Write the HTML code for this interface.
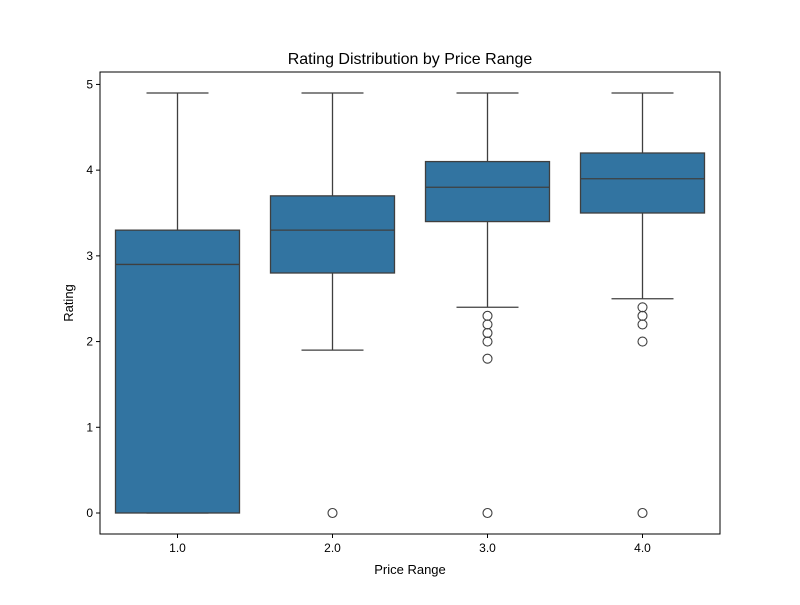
<!DOCTYPE html>
<html><head><meta charset="utf-8"><style>
body{margin:0;background:#fff}
text{font-family:"Liberation Sans","DejaVu Sans",sans-serif;fill:#000}
</style></head><body>
<svg id="chart" width="800" height="600" xmlns="http://www.w3.org/2000/svg">
<rect width="800" height="600" fill="#fff"/>
<text x="410" y="64" font-size="16" text-anchor="middle">Rating Distribution by Price Range</text>
<text x="410" y="574" font-size="13" text-anchor="middle">Price Range</text>
<text x="73" y="303" font-size="13" text-anchor="middle" transform="rotate(-90 73 303)">Rating</text>
<g id="plot"></g>
<rect x="100" y="72" width="620" height="462" fill="none" stroke="#000" stroke-width="1"/>
</svg>
<script>
const categories = ["1.0","2.0","3.0","4.0"];
const q1 = [0, 2.8, 3.4, 3.5];
const medians = [2.9, 3.3, 3.8, 3.9];
const q3 = [3.3, 3.7, 4.1, 4.2];
const whiskLow = [0, 1.9, 2.4, 2.5];
const whiskHigh = [4.9, 4.9, 4.9, 4.9];
const outliers = [[], [0], [2.3, 2.2, 2.1, 2.0, 1.8, 0], [2.4, 2.3, 2.2, 2.0, 0]];
const yTicks = [0, 1, 2, 3, 4, 5];

const NS = "http://www.w3.org/2000/svg";
const L = 100, R = 720, T = 72, B = 534, yMin = -0.245, yMax = 5.145;
const y = v => B - (v - yMin) / (yMax - yMin) * (B - T);
const step = (R - L) / categories.length;
const x = i => L + step * (i + 0.5);
const g = document.getElementById("plot");
function mk(tag, attrs) { const e = document.createElementNS(NS, tag); for (const k in attrs) e.setAttribute(k, attrs[k]); g.appendChild(e); return e; }

yTicks.forEach(t => {
  const l = mk("line", {x1: L - 4, x2: L, y1: y(t), y2: y(t), stroke: "#000"});
  
  
  const tx = mk("text", {x: L - 7, y: y(t) + 4, "font-size": 12, "text-anchor": "end"});
  tx.textContent = t;
  
  
});

categories.forEach((c, i) => {
  const cx = x(i), w = step * 0.8, cw = w / 2, col = "#3f3f3f";
  const wl = mk("line", {x1: cx, x2: cx, y1: y(q1[i]), y2: y(whiskLow[i]), stroke: col, "stroke-width": 1.3});
  
  
  const wh = mk("line", {x1: cx, x2: cx, y1: y(q3[i]), y2: y(whiskHigh[i]), stroke: col, "stroke-width": 1.3});
  
  
  [whiskLow[i], whiskHigh[i]].forEach(v => {
    const cap = mk("line", {x1: cx - cw / 2, x2: cx + cw / 2, y1: y(v), y2: y(v), stroke: col, "stroke-width": 1.3});
    
    
  });
  const box = mk("rect", {x: cx - w / 2, y: y(q3[i]), width: w, height: y(q1[i]) - y(q3[i]), fill: "#3274a1", stroke: col, "stroke-width": 1.3});
  
  
  const m = mk("line", {x1: cx - w / 2, x2: cx + w / 2, y1: y(medians[i]), y2: y(medians[i]), stroke: col, "stroke-width": 1.3});
  
  
  outliers[i].forEach(v => {
    const o = mk("circle", {cx: cx, cy: y(v), r: 4.5, fill: "none", stroke: col, "stroke-width": 1.1});
    
    
  });
  const tk = mk("line", {x1: cx, x2: cx, y1: B, y2: B + 4, stroke: "#000"});
  
  
  const tl = mk("text", {x: cx, y: B + 18, "font-size": 12, "text-anchor": "middle"});
  tl.textContent = c;
  
  
});
</script>
</body></html>
